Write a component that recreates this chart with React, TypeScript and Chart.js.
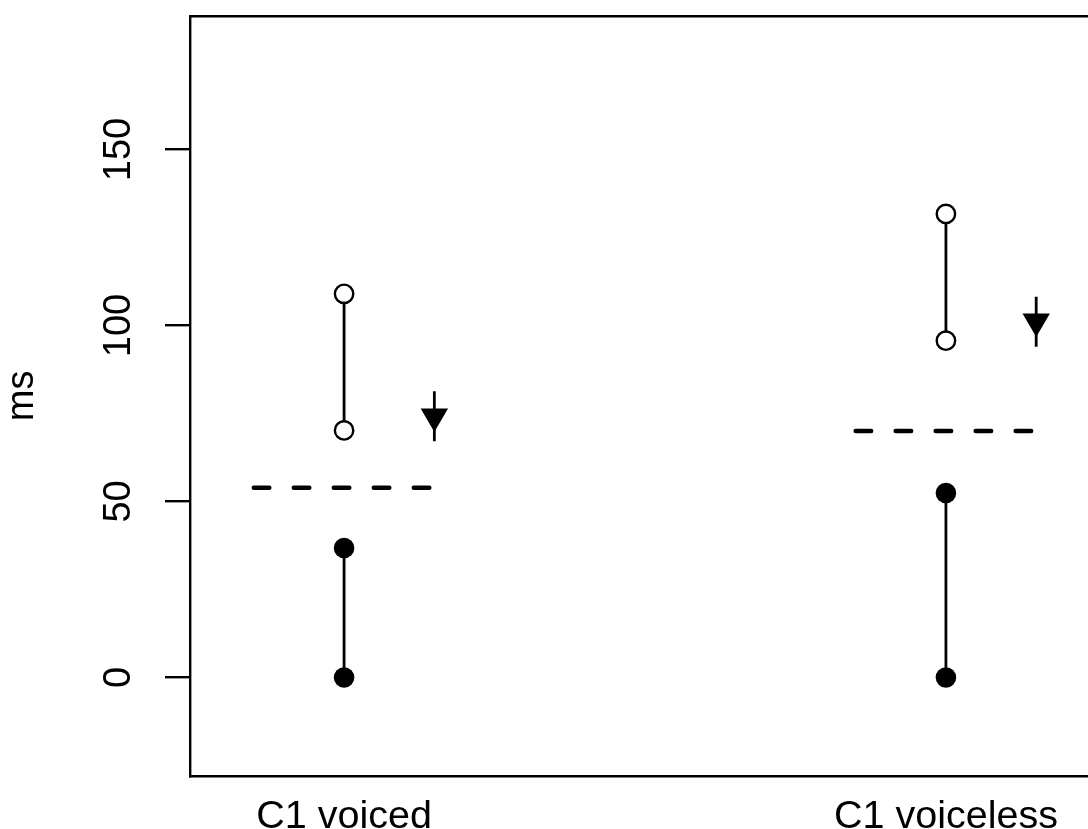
import React, { useEffect, useRef } from "react";
import { Chart, registerables } from "chart.js";

Chart.register(...registerables);

// ---- data ----
const categoryLabels = ["C1 voiced", "C1 voiceless"];
const categoryPositions = [1, 2];
const yTickValues = [0, 50, 100, 150];

// filled-circle segment (lower), per category: [start, end]
const closedSegStart = [0, 0];
const closedSegEnd = [36.8, 52.4];
// open-circle segment (upper), per category: [start, end]
const openSegStart = [70.2, 95.7];
const openSegEnd = [109.0, 131.7];
// dashed reference line per category
const dashedLevel = [53.9, 70.0];
const dashedHalfWidth = 0.15;
// arrow marker (triangle with vertical whisker), per category
const arrowOffset = 0.15;
const arrowCenter = [74.2, 101.2];
const arrowLow = [67.1, 94.0];
const arrowHigh = [81.3, 108.2];

const xMin = 0.744;
const xMax = 2.256;
const yMin = -28;
const yMax = 188;

const FONT = "'Liberation Sans', Arial, Helvetica, sans-serif";

export default function App() {
  const ref = useRef<HTMLCanvasElement | null>(null);

  useEffect(() => {
    const canvas = ref.current;
    if (!canvas) return;
    Chart.defaults.font.family = FONT;
    Chart.defaults.color = "#000";

    const datasets: any[] = [];
    categoryPositions.forEach((cx, i) => {
      // dashed line
      datasets.push({
        data: [
          { x: cx - dashedHalfWidth, y: dashedLevel[i] },
          { x: cx + dashedHalfWidth, y: dashedLevel[i] },
        ],
        showLine: true,
        borderColor: "#000",
        borderWidth: 4.5,
        borderDash: [15.5, 24.5],
        borderCapStyle: "round",
        pointRadius: 0,
      });
      // closed segment
      datasets.push({
        data: [
          { x: cx, y: closedSegStart[i] },
          { x: cx, y: closedSegEnd[i] },
        ],
        showLine: true,
        borderColor: "#000",
        borderWidth: 2.8,
        pointRadius: 10.3,
        pointBorderWidth: 0,
        pointBackgroundColor: "#000",
        pointBorderColor: "#000",
      });
      // open segment
      datasets.push({
        data: [
          { x: cx, y: openSegStart[i] },
          { x: cx, y: openSegEnd[i] },
        ],
        showLine: true,
        borderColor: "#000",
        borderWidth: 2.8,
        pointRadius: 9.2,
        pointBorderWidth: 2.4,
        pointBackgroundColor: "#fff",
        pointBorderColor: "#000",
      });
      // arrow whisker
      datasets.push({
        data: [
          { x: cx + arrowOffset, y: arrowLow[i] },
          { x: cx + arrowOffset, y: arrowHigh[i] },
        ],
        showLine: true,
        borderColor: "#000",
        borderWidth: 2.8,
        pointRadius: 0,
      });
      // arrow triangle
      datasets.push({
        data: [{ x: cx + arrowOffset, y: arrowCenter[i] }],
        showLine: false,
        pointStyle: "triangle",
        rotation: 180,
        pointRadius: 15.8,
        pointBorderWidth: 0,
        pointBackgroundColor: "#000",
        pointBorderColor: "#000",
      });
    });

    const chart = new Chart(canvas, {
      type: "scatter",
      data: { datasets },
      options: {
        animation: false,
        responsive: false,
        devicePixelRatio: 1,
        layout: { padding: { top: 13, right: 20, left: 0, bottom: 0 } },
        plugins: {
          legend: { display: false },
          tooltip: { enabled: false },
        },
        scales: {
          x: {
            type: "linear",
            position: "bottom",
            min: xMin,
            max: xMax,
            afterBuildTicks: (s: any) => {
              s.ticks = categoryPositions.map((v) => ({ value: v }));
            },
            afterFit: (s: any) => {
              s.height = 53;
              s.paddingLeft = 0;
              s.paddingRight = 0;
            },
            ticks: {
              autoSkip: false,
              maxRotation: 0,
              minRotation: 0,
              padding: 17,
              color: "#000",
              font: { size: 39.5, family: FONT },
              callback: (_v: any, idx: number) => categoryLabels[idx],
            },
            grid: { display: false, drawTicks: false },
            border: { display: true, color: "#000", width: 2.4 },
          },
          x2: {
            type: "linear",
            position: "top",
            min: 0,
            max: 1,
            afterFit: (s: any) => {
              s.height = 0;
              s.paddingLeft = 0;
              s.paddingRight = 0;
            },
            ticks: { display: false },
            grid: { display: false, drawTicks: false },
            border: { display: true, color: "#000", width: 2.4 },
          },
          y: {
            type: "linear",
            position: "left",
            min: yMin,
            max: yMax,
            afterBuildTicks: (s: any) => {
              s.ticks = yTickValues.map((v) => ({ value: v }));
            },
            afterFit: (s: any) => {
              s.width = 190;
              s.paddingTop = 0;
              s.paddingBottom = 0;
            },
            ticks: {
              autoSkip: false,
              minRotation: 90,
              maxRotation: 90,
              crossAlign: "center",
              padding: 14,
              color: "#000",
              font: { size: 38, family: FONT },
            },
            grid: {
              display: true,
              drawOnChartArea: false,
              drawTicks: true,
              tickLength: 25,
              tickWidth: 2.4,
              tickColor: "#000",
              color: "#000",
              lineWidth: 2.4,
            },
            border: { display: true, color: "#000", width: 2.4 },
            title: {
              display: true,
              text: "ms",
              color: "#000",
              padding: 0,
              font: { size: 38, family: FONT },
            },
          },
          y2: {
            type: "linear",
            position: "right",
            min: 0,
            max: 1,
            afterFit: (s: any) => {
              s.width = 0;
              s.paddingTop = 0;
              s.paddingBottom = 0;
            },
            ticks: { display: false },
            grid: { display: false, drawTicks: false },
            border: { display: true, color: "#000", width: 2.4 },
          },
        },
      } as any,
    });
    return () => chart.destroy();
  }, []);

  return (
    <div
      style={{
        position: "fixed",
        left: 0,
        top: 0,
        width: 1088,
        height: 829,
        overflow: "hidden",
        background: "#fff",
      }}
    >
      <canvas
        ref={ref}
        width={1120}
        height={829}
        style={{ width: 1120, height: 829, display: "block" }}
      />
    </div>
  );
}
